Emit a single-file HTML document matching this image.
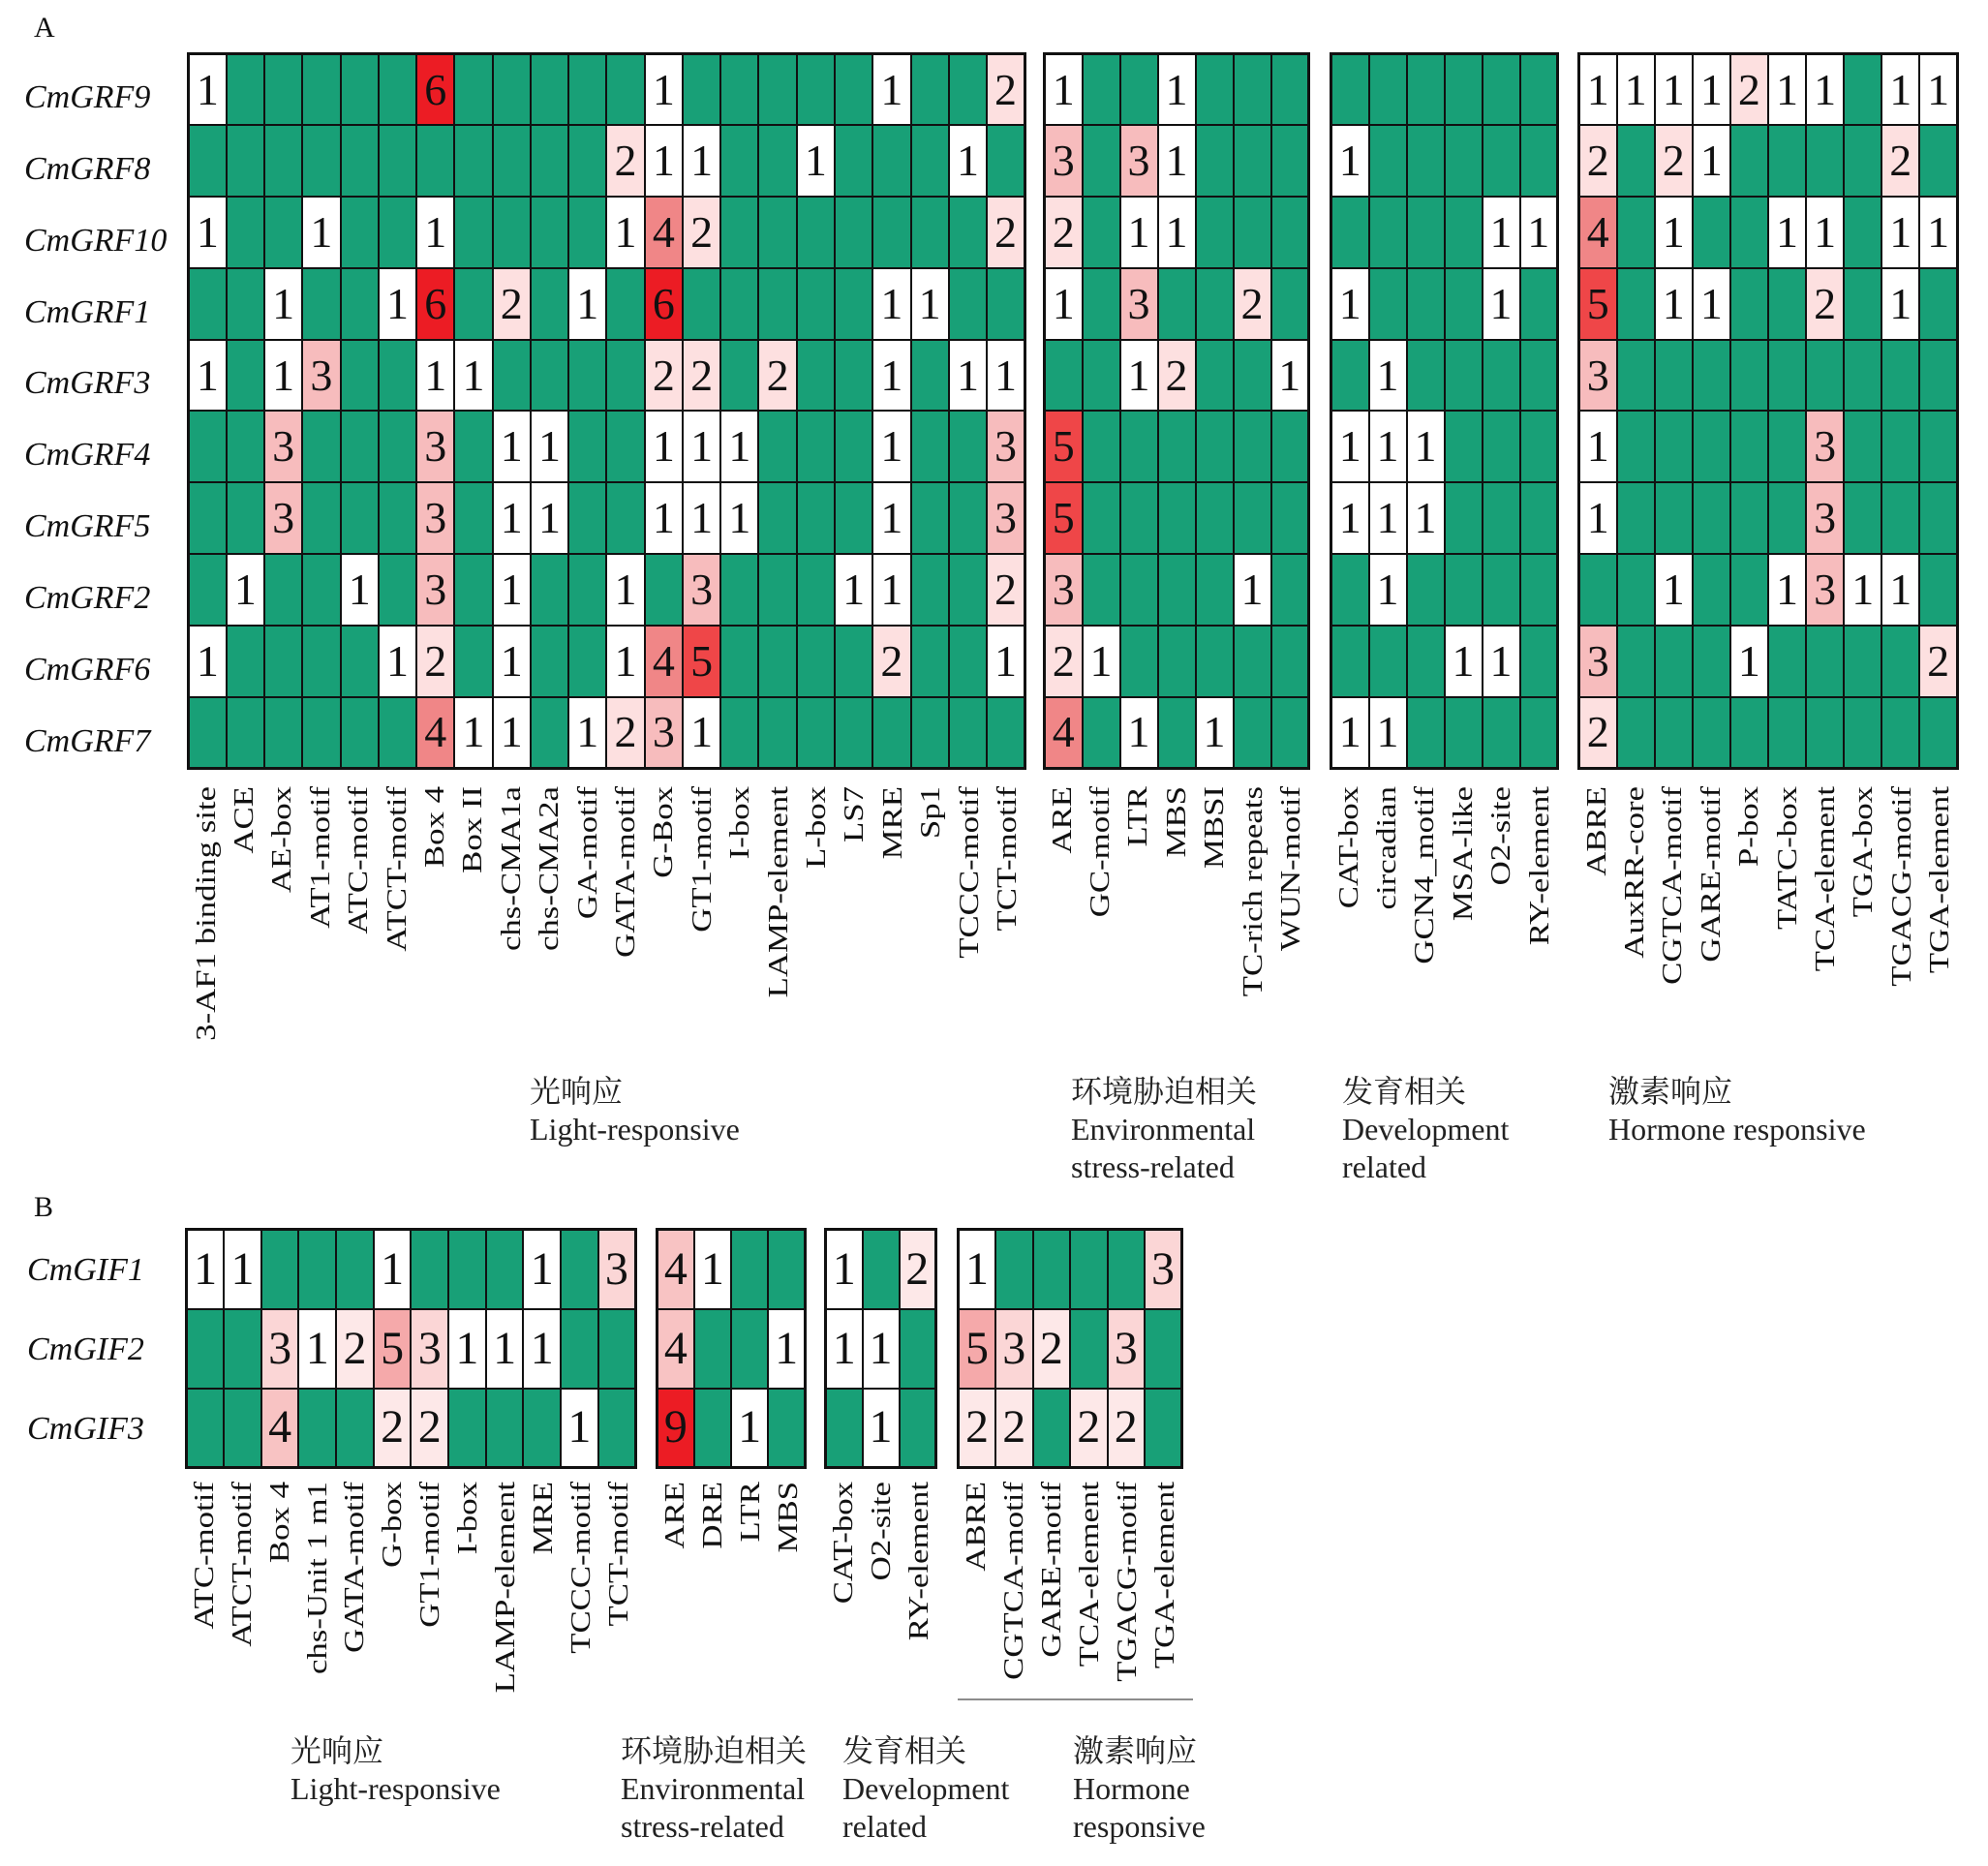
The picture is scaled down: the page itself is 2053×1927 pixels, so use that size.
<!DOCTYPE html>
<html><head><meta charset="utf-8">
<style>
body{margin:0;background:#fff;}
#wrap{position:relative;width:2053px;height:1927px;overflow:hidden;background:#fff;font-family:"Liberation Serif","Times New Roman",Times,"Noto Serif CJK SC",serif;}
table{position:absolute;border-collapse:collapse;table-layout:fixed;border:3px solid #111;}
td{border:2.5px solid #111;padding:0;text-align:center;vertical-align:middle;font-family:"Liberation Serif","Times New Roman",Times,serif;font-size:46px;line-height:1;color:#111;overflow:hidden;}
.A tr{height:73.8px;}
.B tr{height:82px;}
.B td{font-size:48px;}
td.g{background:#18a077;}
td.w{background:#fff;}
td.a2{background:#fde0e0;}
td.a3{background:#f7bcbd;}
td.a4{background:#f08687;}
td.a5{background:#ef4648;}
td.a6{background:#ec1c24;}
td.b2{background:#fde8e8;}
td.b3{background:#fbd6d6;}
td.b4{background:#f8c3c3;}
td.b5{background:#f5a9aa;}
td.b9{background:#ec1c24;}
.rl{position:absolute;font-style:italic;font-size:34px;font-family:"Liberation Serif","Times New Roman",Times,serif;color:#111;line-height:1;}
.pl{position:absolute;font-size:30px;color:#111;line-height:1;}
</style></head><body><div id="wrap">

<div class="pl" style="left:35px;top:14px;">A</div>
<div class="pl" style="left:35px;top:1232px;">B</div>

<div class="rl" style="left:25px;top:84px;">CmGRF9</div>
<div class="rl" style="left:25px;top:158px;">CmGRF8</div>
<div class="rl" style="left:25px;top:232px;">CmGRF10</div>
<div class="rl" style="left:25px;top:306px;">CmGRF1</div>
<div class="rl" style="left:25px;top:379px;">CmGRF3</div>
<div class="rl" style="left:25px;top:453px;">CmGRF4</div>
<div class="rl" style="left:25px;top:527px;">CmGRF5</div>
<div class="rl" style="left:25px;top:601px;">CmGRF2</div>
<div class="rl" style="left:25px;top:675px;">CmGRF6</div>
<div class="rl" style="left:25px;top:749px;">CmGRF7</div>

<div class="rl" style="left:28px;top:1295px;">CmGIF1</div>
<div class="rl" style="left:28px;top:1377px;">CmGIF2</div>
<div class="rl" style="left:28px;top:1459px;">CmGIF3</div>

<table class="A" style="left:193px;top:54px;width:867px;height:738px;">
<tr><td class="w">1</td><td class="g"></td><td class="g"></td><td class="g"></td><td class="g"></td><td class="g"></td><td class="a6">6</td><td class="g"></td><td class="g"></td><td class="g"></td><td class="g"></td><td class="g"></td><td class="w">1</td><td class="g"></td><td class="g"></td><td class="g"></td><td class="g"></td><td class="g"></td><td class="w">1</td><td class="g"></td><td class="g"></td><td class="a2">2</td></tr>
<tr><td class="g"></td><td class="g"></td><td class="g"></td><td class="g"></td><td class="g"></td><td class="g"></td><td class="g"></td><td class="g"></td><td class="g"></td><td class="g"></td><td class="g"></td><td class="a2">2</td><td class="w">1</td><td class="w">1</td><td class="g"></td><td class="g"></td><td class="w">1</td><td class="g"></td><td class="g"></td><td class="g"></td><td class="w">1</td><td class="g"></td></tr>
<tr><td class="w">1</td><td class="g"></td><td class="g"></td><td class="w">1</td><td class="g"></td><td class="g"></td><td class="w">1</td><td class="g"></td><td class="g"></td><td class="g"></td><td class="g"></td><td class="w">1</td><td class="a4">4</td><td class="a2">2</td><td class="g"></td><td class="g"></td><td class="g"></td><td class="g"></td><td class="g"></td><td class="g"></td><td class="g"></td><td class="a2">2</td></tr>
<tr><td class="g"></td><td class="g"></td><td class="w">1</td><td class="g"></td><td class="g"></td><td class="w">1</td><td class="a6">6</td><td class="g"></td><td class="a2">2</td><td class="g"></td><td class="w">1</td><td class="g"></td><td class="a6">6</td><td class="g"></td><td class="g"></td><td class="g"></td><td class="g"></td><td class="g"></td><td class="w">1</td><td class="w">1</td><td class="g"></td><td class="g"></td></tr>
<tr><td class="w">1</td><td class="g"></td><td class="w">1</td><td class="a3">3</td><td class="g"></td><td class="g"></td><td class="w">1</td><td class="w">1</td><td class="g"></td><td class="g"></td><td class="g"></td><td class="g"></td><td class="a2">2</td><td class="a2">2</td><td class="g"></td><td class="a2">2</td><td class="g"></td><td class="g"></td><td class="w">1</td><td class="g"></td><td class="w">1</td><td class="w">1</td></tr>
<tr><td class="g"></td><td class="g"></td><td class="a3">3</td><td class="g"></td><td class="g"></td><td class="g"></td><td class="a3">3</td><td class="g"></td><td class="w">1</td><td class="w">1</td><td class="g"></td><td class="g"></td><td class="w">1</td><td class="w">1</td><td class="w">1</td><td class="g"></td><td class="g"></td><td class="g"></td><td class="w">1</td><td class="g"></td><td class="g"></td><td class="a3">3</td></tr>
<tr><td class="g"></td><td class="g"></td><td class="a3">3</td><td class="g"></td><td class="g"></td><td class="g"></td><td class="a3">3</td><td class="g"></td><td class="w">1</td><td class="w">1</td><td class="g"></td><td class="g"></td><td class="w">1</td><td class="w">1</td><td class="w">1</td><td class="g"></td><td class="g"></td><td class="g"></td><td class="w">1</td><td class="g"></td><td class="g"></td><td class="a3">3</td></tr>
<tr><td class="g"></td><td class="w">1</td><td class="g"></td><td class="g"></td><td class="w">1</td><td class="g"></td><td class="a3">3</td><td class="g"></td><td class="w">1</td><td class="g"></td><td class="g"></td><td class="w">1</td><td class="g"></td><td class="a3">3</td><td class="g"></td><td class="g"></td><td class="g"></td><td class="w">1</td><td class="w">1</td><td class="g"></td><td class="g"></td><td class="a2">2</td></tr>
<tr><td class="w">1</td><td class="g"></td><td class="g"></td><td class="g"></td><td class="g"></td><td class="w">1</td><td class="a2">2</td><td class="g"></td><td class="w">1</td><td class="g"></td><td class="g"></td><td class="w">1</td><td class="a4">4</td><td class="a5">5</td><td class="g"></td><td class="g"></td><td class="g"></td><td class="g"></td><td class="a2">2</td><td class="g"></td><td class="g"></td><td class="w">1</td></tr>
<tr><td class="g"></td><td class="g"></td><td class="g"></td><td class="g"></td><td class="g"></td><td class="g"></td><td class="a4">4</td><td class="w">1</td><td class="w">1</td><td class="g"></td><td class="w">1</td><td class="a2">2</td><td class="a3">3</td><td class="w">1</td><td class="g"></td><td class="g"></td><td class="g"></td><td class="g"></td><td class="g"></td><td class="g"></td><td class="g"></td><td class="g"></td></tr>
</table>

<table class="A" style="left:1077px;top:54px;width:276px;height:738px;">
<tr><td class="w">1</td><td class="g"></td><td class="g"></td><td class="w">1</td><td class="g"></td><td class="g"></td><td class="g"></td></tr>
<tr><td class="a3">3</td><td class="g"></td><td class="a3">3</td><td class="w">1</td><td class="g"></td><td class="g"></td><td class="g"></td></tr>
<tr><td class="a2">2</td><td class="g"></td><td class="w">1</td><td class="w">1</td><td class="g"></td><td class="g"></td><td class="g"></td></tr>
<tr><td class="w">1</td><td class="g"></td><td class="a3">3</td><td class="g"></td><td class="g"></td><td class="a2">2</td><td class="g"></td></tr>
<tr><td class="g"></td><td class="g"></td><td class="w">1</td><td class="a2">2</td><td class="g"></td><td class="g"></td><td class="w">1</td></tr>
<tr><td class="a5">5</td><td class="g"></td><td class="g"></td><td class="g"></td><td class="g"></td><td class="g"></td><td class="g"></td></tr>
<tr><td class="a5">5</td><td class="g"></td><td class="g"></td><td class="g"></td><td class="g"></td><td class="g"></td><td class="g"></td></tr>
<tr><td class="a3">3</td><td class="g"></td><td class="g"></td><td class="g"></td><td class="g"></td><td class="w">1</td><td class="g"></td></tr>
<tr><td class="a2">2</td><td class="w">1</td><td class="g"></td><td class="g"></td><td class="g"></td><td class="g"></td><td class="g"></td></tr>
<tr><td class="a4">4</td><td class="g"></td><td class="w">1</td><td class="g"></td><td class="w">1</td><td class="g"></td><td class="g"></td></tr>
</table>

<table class="A" style="left:1373px;top:54px;width:237px;height:738px;">
<tr><td class="g"></td><td class="g"></td><td class="g"></td><td class="g"></td><td class="g"></td><td class="g"></td></tr>
<tr><td class="w">1</td><td class="g"></td><td class="g"></td><td class="g"></td><td class="g"></td><td class="g"></td></tr>
<tr><td class="g"></td><td class="g"></td><td class="g"></td><td class="g"></td><td class="w">1</td><td class="w">1</td></tr>
<tr><td class="w">1</td><td class="g"></td><td class="g"></td><td class="g"></td><td class="w">1</td><td class="g"></td></tr>
<tr><td class="g"></td><td class="w">1</td><td class="g"></td><td class="g"></td><td class="g"></td><td class="g"></td></tr>
<tr><td class="w">1</td><td class="w">1</td><td class="w">1</td><td class="g"></td><td class="g"></td><td class="g"></td></tr>
<tr><td class="w">1</td><td class="w">1</td><td class="w">1</td><td class="g"></td><td class="g"></td><td class="g"></td></tr>
<tr><td class="g"></td><td class="w">1</td><td class="g"></td><td class="g"></td><td class="g"></td><td class="g"></td></tr>
<tr><td class="g"></td><td class="g"></td><td class="g"></td><td class="w">1</td><td class="w">1</td><td class="g"></td></tr>
<tr><td class="w">1</td><td class="w">1</td><td class="g"></td><td class="g"></td><td class="g"></td><td class="g"></td></tr>
</table>

<table class="A" style="left:1629px;top:54px;width:394px;height:738px;">
<tr><td class="w">1</td><td class="w">1</td><td class="w">1</td><td class="w">1</td><td class="a2">2</td><td class="w">1</td><td class="w">1</td><td class="g"></td><td class="w">1</td><td class="w">1</td></tr>
<tr><td class="a2">2</td><td class="g"></td><td class="a2">2</td><td class="w">1</td><td class="g"></td><td class="g"></td><td class="g"></td><td class="g"></td><td class="a2">2</td><td class="g"></td></tr>
<tr><td class="a4">4</td><td class="g"></td><td class="w">1</td><td class="g"></td><td class="g"></td><td class="w">1</td><td class="w">1</td><td class="g"></td><td class="w">1</td><td class="w">1</td></tr>
<tr><td class="a5">5</td><td class="g"></td><td class="w">1</td><td class="w">1</td><td class="g"></td><td class="g"></td><td class="a2">2</td><td class="g"></td><td class="w">1</td><td class="g"></td></tr>
<tr><td class="a3">3</td><td class="g"></td><td class="g"></td><td class="g"></td><td class="g"></td><td class="g"></td><td class="g"></td><td class="g"></td><td class="g"></td><td class="g"></td></tr>
<tr><td class="w">1</td><td class="g"></td><td class="g"></td><td class="g"></td><td class="g"></td><td class="g"></td><td class="a3">3</td><td class="g"></td><td class="g"></td><td class="g"></td></tr>
<tr><td class="w">1</td><td class="g"></td><td class="g"></td><td class="g"></td><td class="g"></td><td class="g"></td><td class="a3">3</td><td class="g"></td><td class="g"></td><td class="g"></td></tr>
<tr><td class="g"></td><td class="g"></td><td class="w">1</td><td class="g"></td><td class="g"></td><td class="w">1</td><td class="a3">3</td><td class="w">1</td><td class="w">1</td><td class="g"></td></tr>
<tr><td class="a3">3</td><td class="g"></td><td class="g"></td><td class="g"></td><td class="w">1</td><td class="g"></td><td class="g"></td><td class="g"></td><td class="g"></td><td class="a2">2</td></tr>
<tr><td class="a2">2</td><td class="g"></td><td class="g"></td><td class="g"></td><td class="g"></td><td class="g"></td><td class="g"></td><td class="g"></td><td class="g"></td><td class="g"></td></tr>
</table>

<table class="B" style="left:191px;top:1268px;width:467px;height:246px;">
<tr><td class="w">1</td><td class="w">1</td><td class="g"></td><td class="g"></td><td class="g"></td><td class="w">1</td><td class="g"></td><td class="g"></td><td class="g"></td><td class="w">1</td><td class="g"></td><td class="b3">3</td></tr>
<tr><td class="g"></td><td class="g"></td><td class="b3">3</td><td class="w">1</td><td class="b2">2</td><td class="b5">5</td><td class="b3">3</td><td class="w">1</td><td class="w">1</td><td class="w">1</td><td class="g"></td><td class="g"></td></tr>
<tr><td class="g"></td><td class="g"></td><td class="b4">4</td><td class="g"></td><td class="g"></td><td class="b2">2</td><td class="b2">2</td><td class="g"></td><td class="g"></td><td class="g"></td><td class="w">1</td><td class="g"></td></tr>
</table>
<table class="B" style="left:677px;top:1268px;width:156px;height:246px;">
<tr><td class="b4">4</td><td class="w">1</td><td class="g"></td><td class="g"></td></tr>
<tr><td class="b4">4</td><td class="g"></td><td class="g"></td><td class="w">1</td></tr>
<tr><td class="b9">9</td><td class="g"></td><td class="w">1</td><td class="g"></td></tr>
</table>
<table class="B" style="left:851px;top:1268px;width:117px;height:246px;">
<tr><td class="w">1</td><td class="g"></td><td class="b2">2</td></tr>
<tr><td class="w">1</td><td class="w">1</td><td class="g"></td></tr>
<tr><td class="g"></td><td class="w">1</td><td class="g"></td></tr>
</table>
<table class="B" style="left:988px;top:1268px;width:234px;height:246px;">
<tr><td class="w">1</td><td class="g"></td><td class="g"></td><td class="g"></td><td class="g"></td><td class="b3">3</td></tr>
<tr><td class="b5">5</td><td class="b3">3</td><td class="b2">2</td><td class="g"></td><td class="b3">3</td><td class="g"></td></tr>
<tr><td class="b2">2</td><td class="b2">2</td><td class="g"></td><td class="b2">2</td><td class="b2">2</td><td class="g"></td></tr>
</table>

<svg width="2053" height="1927" style="position:absolute;left:0;top:0;" xmlns="http://www.w3.org/2000/svg">
<g font-family="Liberation Serif, Times New Roman, Times, serif" font-size="29" fill="#111" text-anchor="end">
<text transform="translate(222,812) rotate(-90) scale(1.2,1)">3-AF1 binding site</text>
<text transform="translate(261,812) rotate(-90) scale(1.2,1)">ACE</text>
<text transform="translate(300,812) rotate(-90) scale(1.2,1)">AE-box</text>
<text transform="translate(340,812) rotate(-90) scale(1.2,1)">AT1-motif</text>
<text transform="translate(379,812) rotate(-90) scale(1.2,1)">ATC-motif</text>
<text transform="translate(419,812) rotate(-90) scale(1.2,1)">ATCT-motif</text>
<text transform="translate(458,812) rotate(-90) scale(1.2,1)">Box 4</text>
<text transform="translate(497,812) rotate(-90) scale(1.2,1)">Box II</text>
<text transform="translate(537,812) rotate(-90) scale(1.2,1)">chs-CMA1a</text>
<text transform="translate(576,812) rotate(-90) scale(1.2,1)">chs-CMA2a</text>
<text transform="translate(616,812) rotate(-90) scale(1.2,1)">GA-motif</text>
<text transform="translate(655,812) rotate(-90) scale(1.2,1)">GATA-motif</text>
<text transform="translate(694,812) rotate(-90) scale(1.2,1)">G-Box</text>
<text transform="translate(734,812) rotate(-90) scale(1.2,1)">GT1-motif</text>
<text transform="translate(773,812) rotate(-90) scale(1.2,1)">I-box</text>
<text transform="translate(813,812) rotate(-90) scale(1.2,1)">LAMP-element</text>
<text transform="translate(852,812) rotate(-90) scale(1.2,1)">L-box</text>
<text transform="translate(891,812) rotate(-90) scale(1.2,1)">LS7</text>
<text transform="translate(931,812) rotate(-90) scale(1.2,1)">MRE</text>
<text transform="translate(970,812) rotate(-90) scale(1.2,1)">Sp1</text>
<text transform="translate(1010,812) rotate(-90) scale(1.2,1)">TCCC-motif</text>
<text transform="translate(1049,812) rotate(-90) scale(1.2,1)">TCT-motif</text>

<text transform="translate(1106,812) rotate(-90) scale(1.2,1)">ARE</text>
<text transform="translate(1145,812) rotate(-90) scale(1.2,1)">GC-motif</text>
<text transform="translate(1184,812) rotate(-90) scale(1.2,1)">LTR</text>
<text transform="translate(1224,812) rotate(-90) scale(1.2,1)">MBS</text>
<text transform="translate(1263,812) rotate(-90) scale(1.2,1)">MBSI</text>
<text transform="translate(1303,812) rotate(-90) scale(1.2,1)">TC-rich repeats</text>
<text transform="translate(1342,812) rotate(-90) scale(1.2,1)">WUN-motif</text>

<text transform="translate(1402,812) rotate(-90) scale(1.2,1)">CAT-box</text>
<text transform="translate(1441,812) rotate(-90) scale(1.2,1)">circadian</text>
<text transform="translate(1480,812) rotate(-90) scale(1.2,1)">GCN4_motif</text>
<text transform="translate(1520,812) rotate(-90) scale(1.2,1)">MSA-like</text>
<text transform="translate(1559,812) rotate(-90) scale(1.2,1)">O2-site</text>
<text transform="translate(1599,812) rotate(-90) scale(1.2,1)">RY-element</text>

<text transform="translate(1658,812) rotate(-90) scale(1.2,1)">ABRE</text>
<text transform="translate(1697,812) rotate(-90) scale(1.2,1)">AuxRR-core</text>
<text transform="translate(1736,812) rotate(-90) scale(1.2,1)">CGTCA-motif</text>
<text transform="translate(1776,812) rotate(-90) scale(1.2,1)">GARE-motif</text>
<text transform="translate(1815,812) rotate(-90) scale(1.2,1)">P-box</text>
<text transform="translate(1855,812) rotate(-90) scale(1.2,1)">TATC-box</text>
<text transform="translate(1894,812) rotate(-90) scale(1.2,1)">TCA-element</text>
<text transform="translate(1933,812) rotate(-90) scale(1.2,1)">TGA-box</text>
<text transform="translate(1973,812) rotate(-90) scale(1.2,1)">TGACG-motif</text>
<text transform="translate(2012,812) rotate(-90) scale(1.2,1)">TGA-element</text>

<text transform="translate(220,1530) rotate(-90) scale(1.2,1)">ATC-motif</text>
<text transform="translate(259,1530) rotate(-90) scale(1.2,1)">ATCT-motif</text>
<text transform="translate(298,1530) rotate(-90) scale(1.2,1)">Box 4</text>
<text transform="translate(337,1530) rotate(-90) scale(1.2,1)">chs-Unit 1 m1</text>
<text transform="translate(375,1530) rotate(-90) scale(1.2,1)">GATA-motif</text>
<text transform="translate(414,1530) rotate(-90) scale(1.2,1)">G-box</text>
<text transform="translate(453,1530) rotate(-90) scale(1.2,1)">GT1-motif</text>
<text transform="translate(492,1530) rotate(-90) scale(1.2,1)">I-box</text>
<text transform="translate(531,1530) rotate(-90) scale(1.2,1)">LAMP-element</text>
<text transform="translate(570,1530) rotate(-90) scale(1.2,1)">MRE</text>
<text transform="translate(609,1530) rotate(-90) scale(1.2,1)">TCCC-motif</text>
<text transform="translate(648,1530) rotate(-90) scale(1.2,1)">TCT-motif</text>

<text transform="translate(706,1530) rotate(-90) scale(1.2,1)">ARE</text>
<text transform="translate(745,1530) rotate(-90) scale(1.2,1)">DRE</text>
<text transform="translate(784,1530) rotate(-90) scale(1.2,1)">LTR</text>
<text transform="translate(823,1530) rotate(-90) scale(1.2,1)">MBS</text>

<text transform="translate(880,1530) rotate(-90) scale(1.2,1)">CAT-box</text>
<text transform="translate(919,1530) rotate(-90) scale(1.2,1)">O2-site</text>
<text transform="translate(958,1530) rotate(-90) scale(1.2,1)">RY-element</text>

<text transform="translate(1017,1530) rotate(-90) scale(1.2,1)">ABRE</text>
<text transform="translate(1056,1530) rotate(-90) scale(1.2,1)">CGTCA-motif</text>
<text transform="translate(1095,1530) rotate(-90) scale(1.2,1)">GARE-motif</text>
<text transform="translate(1134,1530) rotate(-90) scale(1.2,1)">TCA-element</text>
<text transform="translate(1173,1530) rotate(-90) scale(1.2,1)">TGACG-motif</text>
<text transform="translate(1212,1530) rotate(-90) scale(1.2,1)">TGA-element</text>
</g>
<line x1="989" y1="1755" x2="1232" y2="1755" stroke="#666" stroke-width="1.5"/>
<g font-family="Liberation Serif, Times New Roman, Times, Noto Serif CJK SC, serif" font-size="32" fill="#222">
<text x="547" y="1138">光响应</text>
<text x="547" y="1177">Light-responsive</text>
<text x="1106" y="1138">环境胁迫相关</text>
<text x="1106" y="1177">Environmental</text>
<text x="1106" y="1216">stress-related</text>
<text x="1386" y="1138">发育相关</text>
<text x="1386" y="1177">Development</text>
<text x="1386" y="1216">related</text>
<text x="1661" y="1138">激素响应</text>
<text x="1661" y="1177">Hormone responsive</text>

<text x="300" y="1819">光响应</text>
<text x="300" y="1858">Light-responsive</text>
<text x="641" y="1819">环境胁迫相关</text>
<text x="641" y="1858">Environmental</text>
<text x="641" y="1897">stress-related</text>
<text x="870" y="1819">发育相关</text>
<text x="870" y="1858">Development</text>
<text x="870" y="1897">related</text>
<text x="1108" y="1819">激素响应</text>
<text x="1108" y="1858">Hormone</text>
<text x="1108" y="1897">responsive</text>
</g>
</svg>
</div></body></html>
